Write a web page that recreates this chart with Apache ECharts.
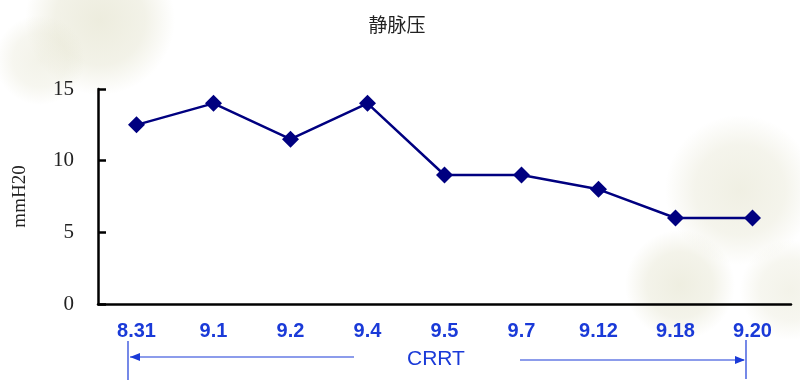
<!DOCTYPE html>
<html>
<head>
<meta charset="utf-8">
<script src="https://cdn.jsdelivr.net/npm/echarts@6/dist/echarts.min.js"></script>
<style>html,body{margin:0;padding:0;background:#fff;}#c{width:800px;height:383px;}</style>
</head>
<body>
<div id="c"></div>
<script>
const titleText = '静脉压';
const yAxisName = 'mmH20';
const categories = ['8.31', '9.1', '9.2', '9.4', '9.5', '9.7', '9.12', '9.18', '9.20'];
const venousPressure = [12.5, 14, 11.5, 14, 9, 9, 8, 6, 6];
const yTicks = [0, 5, 10, 15];
const annotationText = 'CRRT';

const chart = echarts.init(document.getElementById('c'), null, {renderer: 'canvas'});
const blob = (cx, cy, r, op) => ({
  type: 'circle', z: -10, silent: true,
  shape: {cx: cx, cy: cy, r: r},
  style: {
    fill: new echarts.graphic.RadialGradient(0.5, 0.5, 0.5, [
      {offset: 0, color: 'rgba(225,224,200,' + op + ')'},
      {offset: 0.6, color: 'rgba(225,224,200,' + (op * 0.7) + ')'},
      {offset: 1, color: 'rgba(225,224,200,0)'}
    ])
  }
});
const blue = '#1a3ad8';
chart.setOption({
  animation: false,
  backgroundColor: '#ffffff',
  title: {
    text: titleText, left: 392, top: 10, textAlign: 'center',
    textStyle: {fontFamily: 'Noto Sans CJK SC', fontSize: 19, fontWeight: 'normal', color: '#222'}
  },
  grid: {left: 98, right: 9, top: 89, bottom: 79},
  xAxis: {
    type: 'category', data: categories, boundaryGap: true,
    axisLine: {lineStyle: {color: '#000', width: 2.5}},
    axisTick: {inside: true, length: 8, lineStyle: {color: '#000', width: 2.5}},
    axisLabel: {margin: 17, color: blue, fontWeight: 'bold', fontSize: 20, fontFamily: 'Liberation Sans'}
  },
  yAxis: {
    type: 'value', min: yTicks[0], max: yTicks[yTicks.length - 1], interval: 5,
    name: yAxisName, nameLocation: 'middle', nameGap: 68, nameRotate: 90,
    nameTextStyle: {fontFamily: 'Liberation Serif', fontSize: 19, color: '#222'},
    splitLine: {show: false},
    axisLine: {show: true, lineStyle: {color: '#000', width: 2.5}},
    axisTick: {show: true, inside: true, length: 8, lineStyle: {color: '#000', width: 2.5}},
    axisLabel: {margin: 24, color: '#222', fontSize: 21, fontFamily: 'Liberation Serif'}
  },
  series: [{
    type: 'line', data: venousPressure,
    symbol: 'diamond', symbolSize: 17,
    lineStyle: {color: '#000080', width: 2.5},
    itemStyle: {color: '#000080'}
  }],
  graphic: [
    blob(100, 20, 75, 0.6),
    blob(40, 60, 45, 0.4),
    blob(740, 190, 75, 0.5),
    blob(680, 285, 55, 0.55),
    blob(790, 290, 50, 0.4),
    {type: 'line', shape: {x1: 128, y1: 341, x2: 128, y2: 380}, style: {stroke: blue, lineWidth: 1.2}},
    {type: 'line', shape: {x1: 130, y1: 357, x2: 354, y2: 357}, style: {stroke: blue, lineWidth: 1.2}},
    {type: 'polygon', shape: {points: [[130, 357], [140, 353], [140, 361]]}, style: {fill: blue}},
    {type: 'text', left: 407, top: 349, style: {text: annotationText, fill: blue, font: '21px "Liberation Sans"'}},
    {type: 'line', shape: {x1: 520, y1: 360, x2: 744, y2: 360}, style: {stroke: blue, lineWidth: 1.2}},
    {type: 'polygon', shape: {points: [[745, 360], [735, 356], [735, 364]]}, style: {fill: blue}},
    {type: 'line', shape: {x1: 746, y1: 340, x2: 746, y2: 379}, style: {stroke: blue, lineWidth: 1.2}}
  ]
});
</script>
</body>
</html>
